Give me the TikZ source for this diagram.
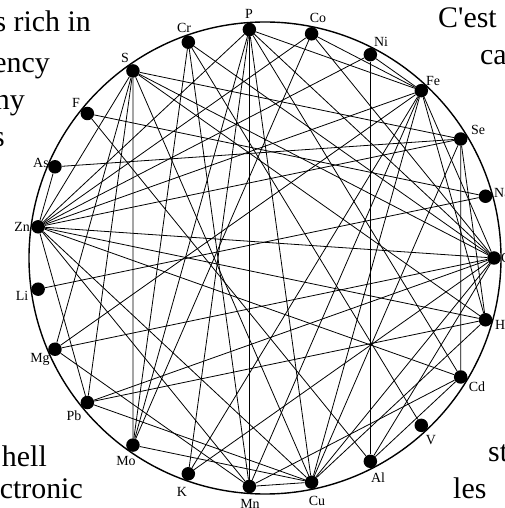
\documentclass[tikz,border=0pt]{standalone}
\usepackage{fontspec}
\setmainfont{Liberation Serif}
\begin{document}
\begin{tikzpicture}[x=1bp,y=1bp,
  dot/.style={circle,fill=black,inner sep=0pt,minimum size=13.5bp},
  lab/.style={font=\fontsize{14}{14}\selectfont,inner sep=0pt},
  big/.style={font=\fontsize{30}{30}\selectfont,inner sep=0pt},
  edge/.style={line width=0.8bp}]
\useasboundingbox (-265,-250) rectangle (240,258);
\draw[line width=1.4bp] (0,0) circle (236);
\foreach \n [count=\i from 0] in {Ca,Na,Se,Fe,Ni,Co,P,Cr,S,F,As,Zn,Li,Mg,Pb,Mo,K,Mn,Cu,Al,V,Cd,Hg}
  \node[dot] (\n) at ({360*\i/23}:229) {};
\foreach \a/\b in {P/Mn,S/Mo,Se/Cd,Ni/Al,Li/Na,F/Na,F/Al,As/Se,As/Zn,
  Zn/Pb,Zn/Cd,Zn/Ca,Zn/P,Zn/Fe,Zn/Ni,Zn/Se,Zn/Hg,Zn/Cu,Zn/Mn,Zn/Co,Zn/S,
  S/Mg,S/Pb,S/Se,S/Ca,S/Hg,S/Cu,Mg/Fe,Mg/Ca,Mg/Mn,Pb/Hg,Pb/Cu,Mo/Cu,Mo/Cr,
  Cr/V,Cr/Mn,Cr/Ca,P/Fe,P/Ca,P/Cu,P/Mo,P/K,P/Cd,Co/Fe,Co/Mo,
  Fe/K,Fe/Mn,Fe/Cu,Fe/Hg,Fe/Ca,Ca/K,Ca/Cu,Ca/Pb,Cd/Mn,Cu/Mn,Ni/Fe,Al/Cd,
  Se/Cu,Se/Hg,Hg/Cu,Ca/Al,Co/Ca}
  \draw[edge] (\a) -- (\b);
\begin{scope}[shift={(-265,258)},yscale=-1]
  \node[lab] (tP) at (249,14) {P};
  \node[lab] (tCr) at (184,28) {Cr};
  \node[lab] (tCo) at (318,18) {Co};
  \node[lab] (tNi) at (381,42) {Ni};
  \node[lab] (tFe) at (433,81) {Fe};
  \node[lab] (tSe) at (478,130) {Se};
  \node[lab,anchor=west] (tNa) at (494,193) {Na};
  \node[lab,anchor=west] (tCa) at (501,258) {Ca};
  \node[lab,anchor=west] (tHg) at (495,326) {Hg};
  \node[lab] (tCd) at (477,387) {Cd};
  \node[lab] (tV) at (431,440) {V};
  \node[lab] (tAl) at (378,478) {Al};
  \node[lab] (tCu) at (317,501) {Cu};
  \node[lab] (tMn) at (250,504) {Mn};
  \node[lab] (tK) at (182,492) {K};
  \node[lab] (tMo) at (126,461) {Mo};
  \node[lab] (tPb) at (74,416) {Pb};
  \node[lab] (tMg) at (40,359) {Mg};
  \node[lab] (tLi) at (22,296) {Li};
  \node[lab] (tZn) at (22,227) {Zn};
  \node[lab] (tAs) at (41,163) {As};
  \node[lab] (tF) at (76,103) {F};
  \node[lab] (tS) at (125,58) {S};
  \node[big,anchor=base east] (w1) at (91,32) {s rich in};
  \node[big,anchor=base east] (w2) at (50,73) {ency};
  \node[big,anchor=base east] (w3) at (25,110) {ny};
  \node[big,anchor=base east] (w4) at (5,147) {s};
  \node[big,anchor=base west] (w5) at (438,28) {C\textquotesingle est};
  \node[big,anchor=base west] (w6) at (480,65) {ca};
  \node[big,anchor=base east] (w7) at (47,466) {hell};
  \node[big,anchor=base east] (w8) at (83,498) {ctronic};
  \node[big,anchor=base west] (w9) at (488,461) {st};
  \node[big,anchor=base west] (w10) at (453,498) {les};
\end{scope}
\end{tikzpicture}
\end{document}
